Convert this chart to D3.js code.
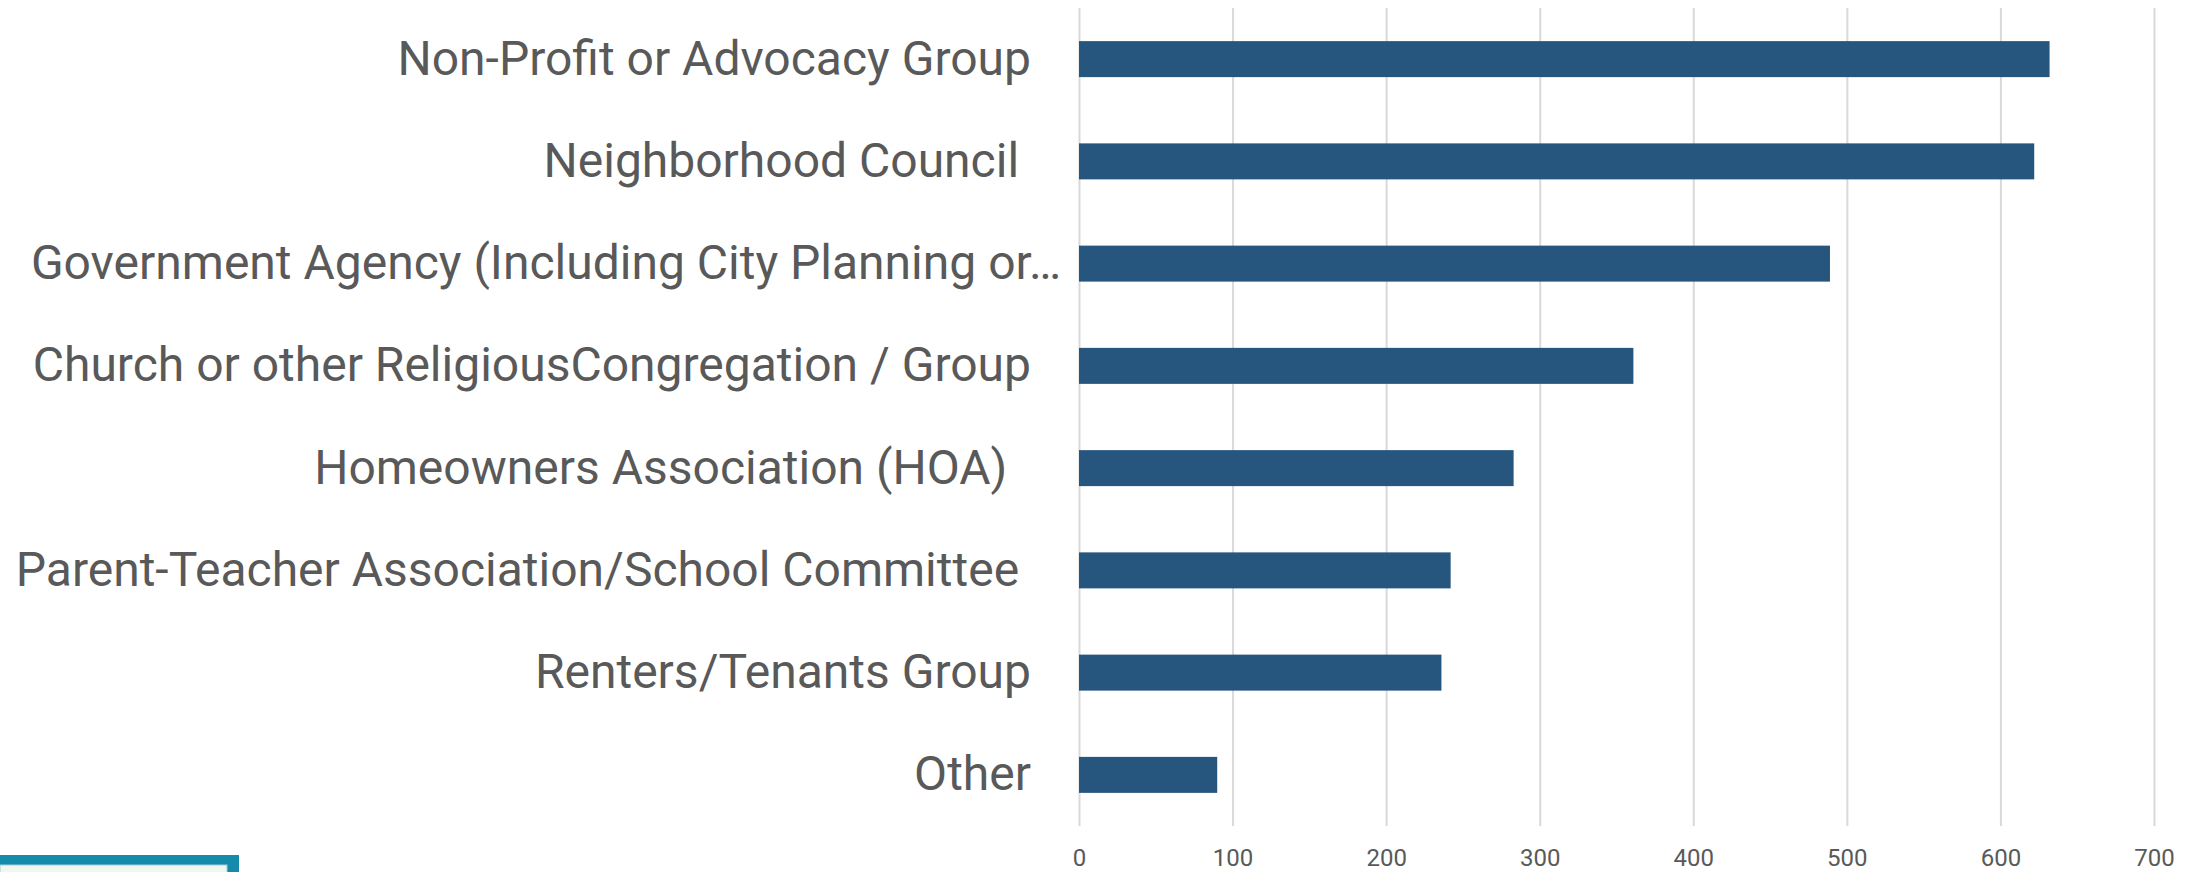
<!DOCTYPE html>
<html>
<head>
<meta charset="utf-8">
<script src="https://cdn.jsdelivr.net/npm/d3@7"></script>
<style>
  html, body { margin: 0; padding: 0; background: #ffffff; overflow: hidden; }
  svg { display: block; font-family: Roboto, "Open Sans", sans-serif; }
</style>
</head>
<body>
<div id="chart"></div>
<script>
// Categorias (tal como aparecen, con los espacios finales del original)
const categories = [
    'Non-Profit or Advocacy Group',
    'Neighborhood Council ',
    'Government Agency (Including City Planning or\u2026',
    'Church or other ReligiousCongregation / Group',
    'Homeowners Association (HOA)  ',
    'Parent-Teacher Association/School Committee ',
    'Renters/Tenants Group',
    'Other'
];

// Numero de respuestas por categoria
const counts = [632, 622, 489, 361, 283, 242, 236, 90];

// Marcas del eje x
const xTicks = [0, 100, 200, 300, 400, 500, 600, 700];

const data = categories.map((name, i) => ({ name, value: counts[i] }));

const width = 2199;
const height = 872;
const margin = { top: 8, right: 45, bottom: 46, left: 1079 };

const svg = d3.select('#chart')
    .append('svg')
    .attr('width', width)
    .attr('height', height);

const x = d3.scaleLinear()
    .domain([0, 700])
    .range([margin.left, width - margin.right]);

const y = d3.scaleBand()
    .domain(categories)
    .range([margin.top, height - margin.bottom])
    .paddingInner(0.648)
    .paddingOuter(0.324);

// Lineas de la cuadricula
const grid = svg.append('g')
    .attr('transform', `translate(0,${height - margin.bottom})`)
    .call(d3.axisBottom(x).tickValues(xTicks).tickSize(-(height - margin.bottom - margin.top)).tickFormat(''));
grid.select('.domain').remove();
grid.selectAll('line').attr('stroke', '#d9d9d9').attr('stroke-width', 2);

// Etiquetas del eje x
const xAxis = svg.append('g')
    .attr('transform', `translate(0,${height - margin.bottom})`)
    .call(d3.axisBottom(x).tickValues(xTicks).tickSize(0).tickPadding(23));
xAxis.select('.domain').remove();
xAxis.selectAll('text')
    .attr('fill', '#595959')
    .style('font-size', '24px')
    .style('font-family', 'Roboto, sans-serif');

// Barras
svg.selectAll('.bar')
    .data(data)
    .enter().append('rect')
    .attr('class', 'bar')
    .attr('x', x(0))
    .attr('y', d => y(d.name))
    .attr('width', d => x(d.value) - x(0))
    .attr('height', y.bandwidth())
    .attr('fill', '#26557e');

// Etiquetas de categorias
const yAxis = svg.append('g')
    .attr('transform', `translate(${margin.left},0)`)
    .call(d3.axisLeft(y).tickSize(0).tickPadding(48));
yAxis.select('.domain').remove();
yAxis.selectAll('text')
    .attr('fill', '#595959')
    .style('font-size', '48px')
    .style('font-family', 'Roboto, sans-serif')
    .style('white-space', 'pre')
    // las etiquetas recortadas usan todo el ancho disponible
    .attr('x', d => d.endsWith('\u2026') ? -18 : -48);

// Recuadro decorativo abajo a la izquierda
const deco = svg.append('g');
deco.append('rect')
    .attr('x', 0).attr('y', 855)
    .attr('width', 239).attr('height', 30)
    .attr('fill', '#158aaa');
deco.append('rect')
    .attr('x', 0).attr('y', 865)
    .attr('width', 227).attr('height', 20)
    .attr('fill', '#f3f5f1')
    .attr('stroke', '#9fcfdc')
    .attr('stroke-width', 1);
</script>
</body>
</html>
